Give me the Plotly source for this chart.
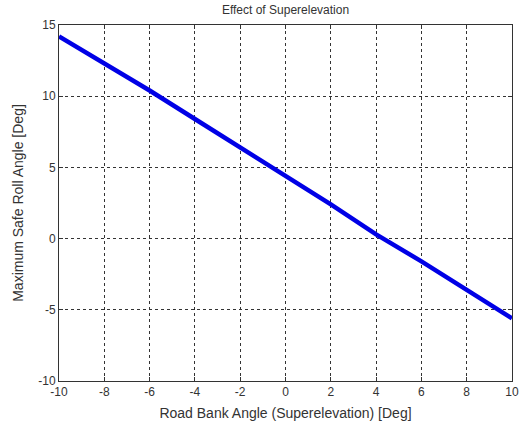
import plotly.graph_objects as go

bank_angle = [-10, -8, -6, -4, -2, 0, 2, 4, 6, 8, 10]
roll_angle = [14.2, 12.3, 10.4, 8.4, 6.4, 4.4, 2.4, 0.3, -1.6, -3.6, -5.6]

x_ticks = [-10, -8, -6, -4, -2, 0, 2, 4, 6, 8, 10]
x_tick_labels = ["-10", "-8", "-6", "-4", "-2", "0", "2", "4", "6", "8", "10"]
y_ticks = [-10, -5, 0, 5, 10, 15]
y_tick_labels = ["-10", "-5", "0", "5", "10", "15"]

fig = go.Figure()
fig.add_trace(go.Scatter(x=bank_angle, y=roll_angle, mode="lines",
                         line=dict(color="#0000e6", width=4.5), showlegend=False))

font = dict(family="Liberation Sans, Arial, sans-serif", size=12, color="#333333")
axis_common = dict(
    showline=True, linecolor="#333333", linewidth=1, mirror="ticks",
    ticks="inside", ticklen=4, tickcolor="#333333",
    showgrid=True, gridcolor="#333333", gridwidth=1, griddash="3px,3px",
    zeroline=False, tickfont=font, automargin=False,
)

fig.update_layout(
    width=527, height=423,
    margin=dict(l=59, r=15, t=25, b=42),
    paper_bgcolor="white", plot_bgcolor="white",
    font=font,
    title=dict(text="Effect of Superelevation", x=0.5, xref="paper", y=1, yref="container",
               yanchor="top", pad=dict(t=6), font=dict(size=12, family="Liberation Sans, Arial, sans-serif", color="#333333")),
    xaxis=dict(range=[-10, 10], tickvals=x_ticks, ticktext=x_tick_labels,
               title=dict(text="Road Bank Angle (Superelevation) [Deg]", standoff=9), **axis_common),
    yaxis=dict(range=[-10, 15], tickvals=y_ticks, ticktext=y_tick_labels,
               title=dict(text="Maximum Safe Roll Angle [Deg]", standoff=11), **axis_common),
)

fig.write_html("out.html", config={"displayModeBar": False},
               post_script="document.body.style.margin='0';document.body.style.overflow='hidden';")
